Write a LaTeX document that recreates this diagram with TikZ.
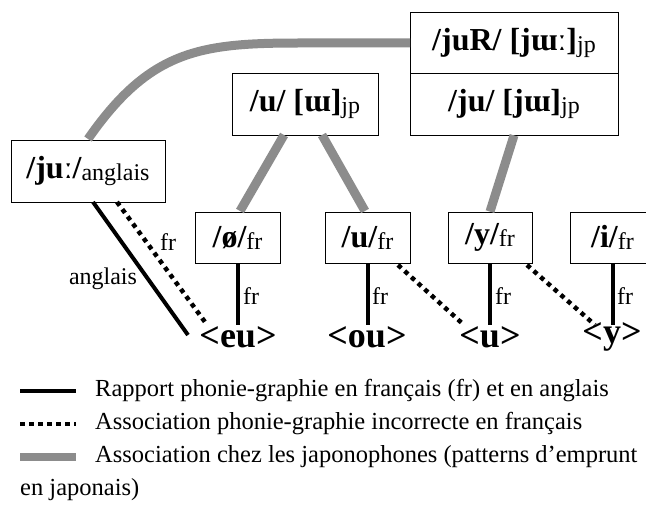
\documentclass[tikz,border=0pt]{standalone}
\usepackage{fontspec}
\setmainfont{Liberation Serif}
\newcommand{\jpsub}[1]{\raisebox{-2pt}{\mdseries\fontsize{24}{24}\selectfont #1}}
\tikzset{
  pbox/.style={draw, line width=0.8pt, inner sep=0pt, font=\fontsize{32}{34}\selectfont\bfseries},
  graph/.style={inner sep=0pt, font=\fontsize{36}{38}\selectfont\bfseries},
  lbl/.style={inner sep=0pt, font=\fontsize{24}{26}\selectfont},
  legtxt/.style={inner sep=0pt, anchor=west, font=\fontsize{24.5}{26}\selectfont},
  jpline/.style={line width=9pt, draw=gray!90},
  frline/.style={line width=4pt, line cap=butt},
  dotline/.style={line width=4.5pt, line cap=butt, dash pattern=on 4.5pt off 4.5pt}
}
\begin{document}
\begin{tikzpicture}[x=1pt,y=-1pt]
\useasboundingbox (0,0) rectangle (646,505);
% boxes
\node[pbox, minimum width=208, minimum height=61] (juR) at (514,42.5) {/juR/ [jɯː]\jpsub{jp}};
\node[pbox, minimum width=208, minimum height=62] (ju) at (514,104) {/ju/ [jɯ]\jpsub{jp}};
\node[pbox, minimum width=146, minimum height=62] (uw) at (305,104) {/u/ [ɯ]\jpsub{jp}};
\node[pbox, minimum width=154, minimum height=62] (juE) at (88,171) {/juː/\jpsub{anglais}};
\node[pbox, minimum width=85, minimum height=51] (oe) at (237.5,237.5) {/ø/\jpsub{fr}};
\node[pbox, minimum width=85, minimum height=51] (ufr) at (367.5,237.5) {/u/\jpsub{fr}};
\node[pbox, minimum width=84, minimum height=51] (yfr) at (490,237.5) {/y/\jpsub{fr}};
\node[pbox, minimum width=85, minimum height=51] (ifr) at (612.5,237.5) {/i/\jpsub{fr}};
% graphemes
\node[graph] (eu) at (238,337) {<eu>};
\node[graph] (ou) at (367,337) {<ou>};
\node[graph] (gu) at (490,337) {<u>};
\node[graph] (gy) at (612,337) {<y>};
% japanese associations
\coordinate (cstart) at (88,139);
\coordinate (cend) at (410,43);
\draw[jpline] (cstart) .. controls (150,50) and (200,43) .. (300,43) -- (cend);
\coordinate (uwA) at (284,135);
\coordinate (oeA) at (240,211);
\coordinate (uwB) at (322,135);
\coordinate (ufrA) at (365,211);
\draw[jpline] (uwA) -- (oeA);
\draw[jpline] (uwB) -- (ufrA);
\draw[jpline] (ju.south) -- (yfr.north);
% french vertical lines
\foreach \b in {oe, ufr, yfr, ifr}{
  \draw[frline] (\b.south) -- (\b.south |- 0,325);
}
\node[lbl, anchor=west] (fr1) at (243,296) {fr};
\node[lbl, anchor=west] (fr2) at (372,296) {fr};
\node[lbl, anchor=west] (fr3) at (495,296) {fr};
\node[lbl, anchor=west] (fr4) at (617,296) {fr};
% english lines
\coordinate (angA) at (93,202);
\coordinate (angB) at (188,335);
\draw[frline] (angA) -- (angB);
\coordinate (dA) at (117,202);
\coordinate (dB) at (205,322);
\draw[dotline] (dA) -- (dB);
\node[lbl] (anglab) at (103,279) {anglais};
\node[lbl] (frlab) at (168,242) {fr};
% dotted wrong associations
\coordinate (d1a) at (398,265);
\coordinate (d1b) at (464,325);
\draw[dotline] (d1a) -- (d1b);
\coordinate (d2a) at (527,265);
\coordinate (d2b) at (595,325);
\draw[dotline] (d2a) -- (d2b);
% legend
\coordinate (l1a) at (20,391); \coordinate (l1b) at (76,391);
\coordinate (l2a) at (20,424); \coordinate (l2b) at (76,424);
\coordinate (l3a) at (20,457); \coordinate (l3b) at (76,457);
\draw[frline] (l1a) -- (l1b);
\draw[dotline] (l2a) -- (l2b);
\draw[jpline, line width=8pt] (l3a) -- (l3b);
\node[legtxt] (t1) at (95,391) {Rapport phonie-graphie en français (fr) et en anglais};
\node[legtxt] (t2) at (95,424) {Association phonie-graphie incorrecte en français};
\node[legtxt] (t3) at (95,457) {Association chez les japonophones (patterns d’emprunt};
\node[legtxt] (t4) at (20,490) {en japonais)};
\end{tikzpicture}
\end{document}
